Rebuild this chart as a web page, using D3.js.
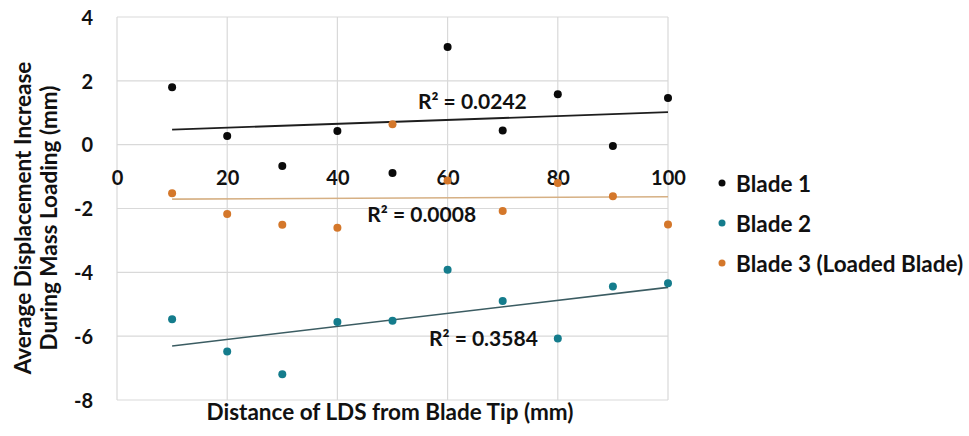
<!DOCTYPE html>
<html>
<head>
<meta charset="utf-8">
<script src="https://cdn.jsdelivr.net/npm/d3@7"></script>
<style>
  html, body { margin: 0; padding: 0; background: #fff; }
  svg { display: block; font-family: Lato, "Open Sans", sans-serif; font-weight: 700; }
</style>
</head>
<body>
<svg id="chart" width="969" height="436"></svg>
<script>
// ---- data ----
const distances = [10, 20, 30, 40, 50, 60, 70, 80, 90, 100];
const blade1 = [1.80, 0.27, -0.67, 0.43, -0.89, 3.06, 0.44, 1.58, -0.04, 1.46];
const blade2 = [-5.47, -6.48, -7.19, -5.56, -5.52, -3.92, -4.90, -6.07, -4.44, -4.34];
const blade3 = [-1.52, -2.17, -2.51, -2.60, 0.64, -1.12, -2.08, -1.20, -1.62, -2.50];
const seriesNames = ["Blade 1", "Blade 2", "Blade 3 (Loaded Blade)"];
const r2Labels = ["R² = 0.0242", "R² = 0.3584", "R² = 0.0008"];
const xTicks = [0, 20, 40, 60, 80, 100];
const yTicks = [-8, -6, -4, -2, 0, 2, 4];
const xTitle = "Distance of LDS from Blade Tip (mm)";
const yTitleLines = ["Average Displacement Increase", "During Mass Loading (mm)"];

// ---- styles / layout ----
const colors = ["#0a0a0a", "#147c8c", "#d4772a"];
const trendColors = ["#1e1e1e", "#3b5c62", "#d6b084"];
const labelAt = [[64.5, 1.39], [66.5, -6.03], [55.3, -2.15]]; // annotation anchor in data units

const svg = d3.select("#chart");
const x = d3.scaleLinear().domain([0, 100]).range([117, 668]);
const y = d3.scaleLinear().domain([-8, 4]).range([400, 17]);

// grid
const grid = svg.append("g");
grid.selectAll("line.h").data(yTicks).join("line")
  .attr("x1", x(0)).attr("x2", x(100))
  .attr("y1", d => y(d)).attr("y2", d => y(d))
  .attr("stroke", "#d9d9d9").attr("stroke-width", 1.2);
grid.selectAll("line.v").data(xTicks).join("line")
  .attr("y1", y(4)).attr("y2", y(-8))
  .attr("x1", d => x(d)).attr("x2", d => x(d))
  .attr("stroke", "#d9d9d9").attr("stroke-width", 1.2);

const fmt = d => String(d);

// x axis labels placed along y=0
const xAxis = d3.axisBottom(x).tickValues(xTicks).tickSize(0).tickPadding(0).tickFormat(fmt);
const gx = svg.append("g").attr("transform", `translate(0,${y(0) + 40})`).call(xAxis);
gx.select(".domain").remove();
gx.selectAll("text").attr("font-size", 20).attr("font-weight", 700).attr("fill", "#111")
  .attr("font-family", "Lato, sans-serif").attr("dy", "0");

const yAxis = d3.axisLeft(y).tickValues(yTicks).tickSize(0).tickPadding(0).tickFormat(fmt);
const gy = svg.append("g").attr("transform", `translate(${x(0) - 24},0)`).call(yAxis);
gy.select(".domain").remove();
gy.selectAll("text").attr("font-size", 20).attr("font-weight", 700).attr("fill", "#111")
  .attr("font-family", "Lato, sans-serif").attr("dy", "0.36em");

const series = [blade1, blade2, blade3];

// trendlines (least squares)
function fit(ys) {
  const mx = d3.mean(distances), my = d3.mean(ys);
  let sxy = 0, sxx = 0;
  distances.forEach((xi, i) => { sxy += (xi - mx) * (ys[i] - my); sxx += (xi - mx) ** 2; });
  const b = sxy / sxx, a = my - b * mx;
  return xv => a + b * xv;
}
const x0 = d3.min(distances), x1 = d3.max(distances);
series.forEach((ys, i) => {
  const f = fit(ys);
  svg.append("line")
    .attr("x1", x(x0)).attr("y1", y(f(x0)))
    .attr("x2", x(x1)).attr("y2", y(f(x1)))
    .attr("stroke", trendColors[i]).attr("stroke-width", i === 0 ? 1.8 : 1.6);
});

// points: draw blade 3, then blade 2, then blade 1
[2, 1, 0].forEach(i => {
  svg.append("g").selectAll("circle").data(series[i]).join("circle")
    .attr("cx", (d, j) => x(distances[j]))
    .attr("cy", d => y(d))
    .attr("r", 4)
    .attr("fill", colors[i]);
});

// R² labels
r2Labels.forEach((t, i) => {
  svg.append("text")
    .attr("x", x(labelAt[i][0])).attr("y", y(labelAt[i][1]))
    .attr("text-anchor", "middle").attr("dominant-baseline", "central")
    .attr("font-size", 21).attr("fill", "#111").text(t);
});

// axis titles
svg.append("text")
  .attr("x", 390).attr("y", 420)
  .attr("text-anchor", "middle").attr("font-size", 22.5).attr("fill", "#111")
  .text(xTitle);

const yt = svg.append("text")
  .attr("transform", "translate(23,218) rotate(-90)")
  .attr("text-anchor", "middle").attr("font-size", 22.5).attr("fill", "#111");
yTitleLines.forEach((l, i) => {
  yt.append("tspan").attr("x", 0).attr("dy", i === 0 ? "0.35em" : "26px").text(l);
});

// legend
const lg = svg.append("g");
seriesNames.forEach((n, i) => {
  const cy = 183 + i * 40;
  lg.append("circle").attr("cx", 722).attr("cy", cy).attr("r", 3.5).attr("fill", colors[i]);
  lg.append("text").attr("x", 736).attr("y", cy).attr("dominant-baseline", "central")
    .attr("font-size", 22.5).attr("fill", "#111").text(n);
});
</script>
</body>
</html>
